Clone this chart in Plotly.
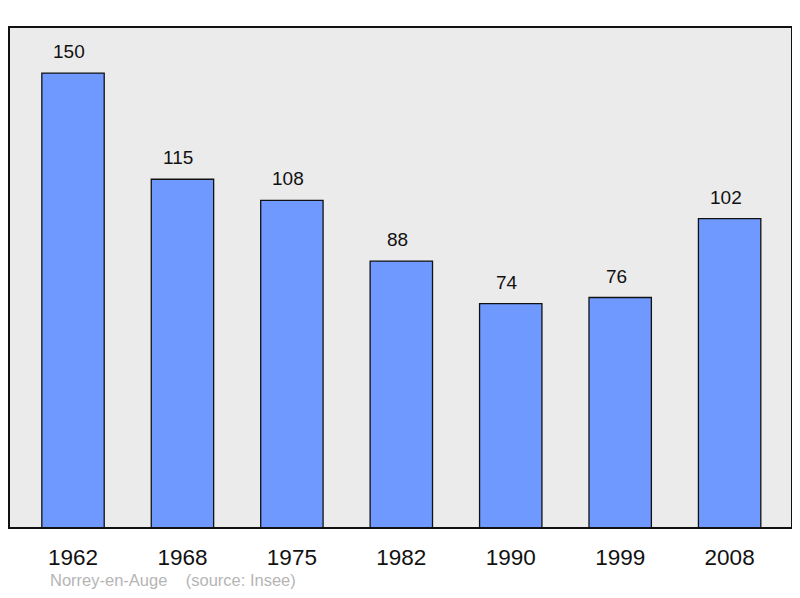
import plotly.graph_objects as go

years = ["1962", "1968", "1975", "1982", "1990", "1999", "2008"]
population = [150, 115, 108, 88, 74, 76, 102]
footer = "Norrey-en-Auge    (source: Insee)"

# the page body keeps an 8px margin, so the figure is a bit smaller than the window
fig = go.Figure(go.Bar(
    x=list(range(len(years))),
    y=population,
    width=0.57,
    marker=dict(color="#7099ff", line=dict(color="#111111", width=1.3)),
    hoverinfo="skip",
))

# value labels above bars
for i, v in enumerate(population):
    fig.add_annotation(
        x=i, y=v, text=str(v), showarrow=False,
        yanchor="bottom", yshift=9, xshift=-4,
        font=dict(family="Liberation Sans, Arial", size=19, color="#111111"),
    )

fig.add_annotation(
    xref="paper", yref="paper", x=0.05, y=-0.081,
    xanchor="left", yanchor="top", text=footer.replace(" ", "&nbsp;"), showarrow=False,
    font=dict(family="Liberation Sans, Arial", size=16.5, color="#b5b5b5"),
)

# frame around the plot area
fig.add_shape(
    type="rect", xref="paper", yref="paper", x0=0, y0=0, x1=1, y1=1,
    line=dict(color="#111111", width=2), layer="above",
)

fig.update_layout(
    width=784, height=582,
    margin=dict(l=1, r=0, t=19, b=62),
    paper_bgcolor="white",
    plot_bgcolor="#ebebeb",
    showlegend=False,
    xaxis=dict(
        range=[-0.585, 6.57], showgrid=False, zeroline=False,
        tickvals=list(range(len(years))), ticktext=years,
        ticks="outside", ticklen=9, tickcolor="rgba(0,0,0,0)",
        tickfont=dict(family="Liberation Sans, Arial", size=22.5, color="#111111"),
    ),
    yaxis=dict(range=[0, 165.2], showgrid=False, zeroline=False, showticklabels=False),
)

fig.write_html("out.html")
